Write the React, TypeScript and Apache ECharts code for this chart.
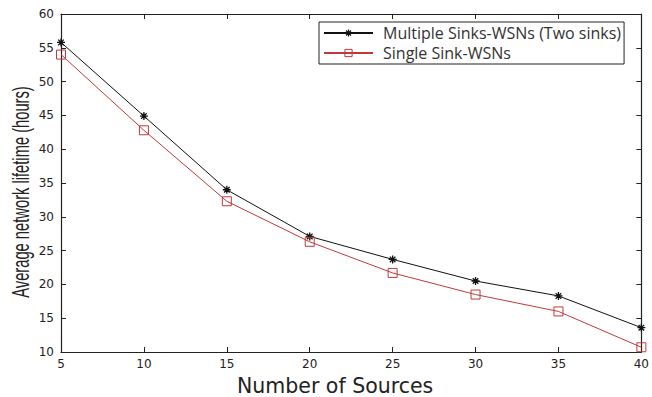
import React, { useEffect, useRef } from "react";
import * as echarts from "echarts";

const sources = [5, 10, 15, 20, 25, 30, 35, 40];
const multipleSinks = [55.8, 44.9, 34.0, 27.1, 23.7, 20.5, 18.3, 13.6];
const singleSink = [54.0, 42.8, 32.3, 26.3, 21.7, 18.5, 16.0, 10.7];
const seriesNames = ["Multiple Sinks-WSNs (Two sinks)", "Single Sink-WSNs"];
const xTitle = "Number of Sources";
const yTitle = "Average network lifetime (hours)";

const asterisk =
  "path://M5,0L5,10M0,5L10,5M1.5,1.5L8.5,8.5M1.5,8.5L8.5,1.5";

const BLACK = "#111";
const RED = "#c03a3a";

export default function App() {
  const ref = useRef<HTMLDivElement>(null);
  useEffect(() => {
    if (!ref.current) return;
    const chart = echarts.init(ref.current, null, { renderer: "svg" });
    const axisLine = { show: true, lineStyle: { color: "#222", width: 1.2 } };
    const tickIn = { show: true, inside: true, length: 5, lineStyle: { color: "#222", width: 1 } };
    const labelStyle = { color: "#222", fontSize: 12, fontFamily: "DejaVu Sans" };
    chart.setOption({
      animation: false,
      backgroundColor: "#fff",
      grid: { left: 61, right: 2, top: 14, bottom: 45 },
      legend: {
        orient: "vertical",
        left: 319,
        top: 22,
        backgroundColor: "#fff",
        borderColor: "#222",
        borderWidth: 1,
        borderRadius: 0,
        padding: [3, 3, 3, 4],
        itemGap: 4,
        itemWidth: 49,
        itemHeight: 9,
        textStyle: {
          fontFamily: "Open Sans",
          fontSize: 16,
          lineHeight: 15,
          color: "#333",
          padding: [0, 0, 0, 5],
        },
        data: [
          {
            name: seriesNames[0],
            itemStyle: { color: "none", borderColor: BLACK, borderWidth: 1.2 },
          },
          {
            name: seriesNames[1],
            itemStyle: { color: "none", borderColor: RED, borderWidth: 1 },
          },
        ],
      },
      xAxis: [
        {
          type: "value",
          min: 5,
          max: 40,
          interval: 5,
          position: "bottom",
          axisLine,
          axisTick: tickIn,
          splitLine: { show: false },
          axisLabel: { ...labelStyle, margin: 6 },
        },
        {
          type: "value",
          min: 5,
          max: 40,
          interval: 5,
          position: "top",
          axisLine,
          axisTick: tickIn,
          splitLine: { show: false },
          axisLabel: { show: false },
        },
      ],
      yAxis: [
        {
          type: "value",
          min: 10,
          max: 60,
          interval: 5,
          position: "left",
          axisLine,
          axisTick: tickIn,
          splitLine: { show: false },
          axisLabel: { ...labelStyle, margin: 7 },
        },
        {
          type: "value",
          min: 10,
          max: 60,
          interval: 5,
          position: "right",
          axisLine,
          axisTick: tickIn,
          splitLine: { show: false },
          axisLabel: { show: false },
        },
      ],
      graphic: [
        {
          type: "text",
          left: 237,
          top: 375,
          style: {
            text: xTitle,
            fontFamily: "DejaVu Sans",
            fontSize: 20.5,
            fill: "#222",
          },
        },
        {
          type: "text",
          x: 21,
          y: 192,
          rotation: Math.PI / 2,
          scaleX: 0.64,
          style: {
            text: yTitle,
            fontFamily: "Liberation Sans",
            fontSize: 23,
            fill: "#222",
            align: "center",
            verticalAlign: "middle",
          },
        },
      ],
      series: [
        {
          name: seriesNames[0],
          type: "line",
          data: sources.map((x, i) => [x, multipleSinks[i]]),
          symbol: asterisk,
          symbolSize: 8,
          lineStyle: { color: BLACK, width: 1 },
          itemStyle: { color: "none", borderColor: BLACK, borderWidth: 1.3 },
        },
        {
          name: seriesNames[1],
          type: "line",
          data: sources.map((x, i) => [x, singleSink[i]]),
          symbol: "rect",
          symbolSize: 9,
          lineStyle: { color: RED, width: 1 },
          itemStyle: { color: "none", borderColor: RED, borderWidth: 1 },
        },
      ],
    });
    return () => chart.dispose();
  }, []);
  return <div ref={ref} style={{ width: 652, height: 397, position: "absolute", left: 0, top: 0 }} />;
}
